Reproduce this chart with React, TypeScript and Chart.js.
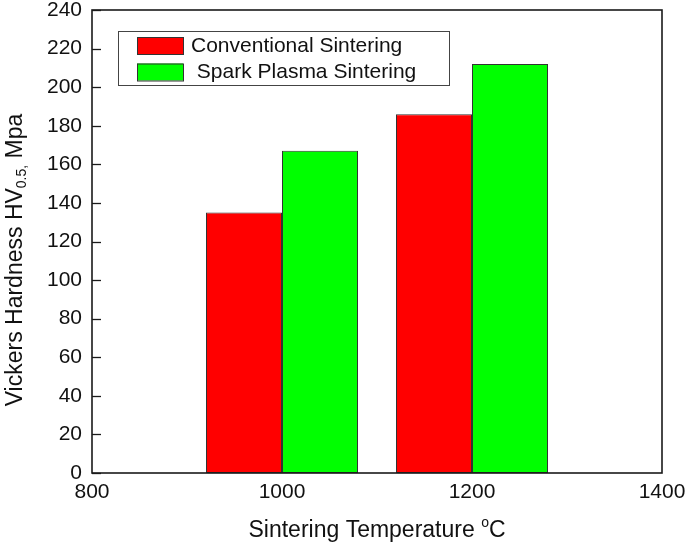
import { useEffect, useRef } from "react";
import { Chart, registerables } from "chart.js";

Chart.register(...registerables);

const temperatures = [1000, 1200];
const conventional = [135, 186];
const sparkPlasma = [167, 212];
const seriesLabels = ["Conventional Sintering", " Spark Plasma Sintering"];
const seriesColors = ["#ff0000", "#00ff00"];
const xMin = 800;
const xMax = 1400;
const xStep = 200;
const yMin = 0;
const yMax = 240;
const yStep = 20;

const FONT = "'Liberation Sans', Arial, sans-serif";

const decorPlugin = {
  id: "decor",
  afterDraw(chart: any) {
    const { ctx, chartArea: a, scales } = chart;
    ctx.save();
    // frame
    ctx.strokeStyle = "#1a1a1a";
    ctx.lineWidth = 1.6;
    ctx.strokeRect(a.left, a.top, a.right - a.left, a.bottom - a.top);
    // inward y ticks
    const ys = scales.y;
    ctx.lineWidth = 1.3;
    ys.ticks.forEach((t: any) => {
      const py = Math.round(ys.getPixelForValue(t.value)) + 0.5;
      ctx.beginPath();
      ctx.moveTo(a.left, py);
      ctx.lineTo(a.left + 9, py);
      ctx.stroke();
    });

    // legend
    const lx = a.left + 26;
    const ly = a.top + 21;
    const lw = 331;
    const lh = 54;
    ctx.fillStyle = "#fff";
    ctx.fillRect(lx, ly, lw, lh);
    ctx.strokeStyle = "#444";
    ctx.lineWidth = 1;
    ctx.strokeRect(lx + 0.5, ly + 0.5, lw, lh);
    ctx.font = `21px ${FONT}`;
    ctx.textBaseline = "middle";
    ctx.textAlign = "left";
    chart.data.datasets.forEach((ds: any, i: number) => {
      const sy = ly + 6 + i * 26.5;
      ctx.fillStyle = ds.backgroundColor;
      ctx.fillRect(lx + 19, sy, 46, 17);
      ctx.strokeStyle = "#333";
      ctx.lineWidth = 1;
      ctx.strokeRect(lx + 19.5, sy + 0.5, 46, 17);
      ctx.fillStyle = "#111";
      ctx.fillText(ds.label, lx + 73, sy + 9);
    });

    // x title
    const big = `23px ${FONT}`;
    const small = `14px ${FONT}`;
    ctx.fillStyle = "#111";
    ctx.textBaseline = "alphabetic";
    const xParts = [
      { t: "Sintering Temperature ", f: big, dy: 0 },
      { t: "o", f: small, dy: -10 },
      { t: "C", f: big, dy: 0 },
    ];
    let total = 0;
    xParts.forEach((p) => {
      ctx.font = p.f;
      total += ctx.measureText(p.t).width;
    });
    let cx = (a.left + a.right) / 2 - total / 2;
    xParts.forEach((p) => {
      ctx.font = p.f;
      ctx.fillText(p.t, cx, 537 + p.dy);
      cx += ctx.measureText(p.t).width;
    });

    // y title
    const yParts = [
      { t: "Vickers Hardness HV", f: big, dy: 0 },
      { t: "0.5,", f: small, dy: 3.5 },
      { t: " Mpa", f: big, dy: 0 },
    ];
    total = 0;
    yParts.forEach((p) => {
      ctx.font = p.f;
      total += ctx.measureText(p.t).width;
    });
    ctx.translate(22, 260);
    ctx.rotate(-Math.PI / 2);
    let tx = -total / 2;
    yParts.forEach((p) => {
      ctx.font = p.f;
      ctx.fillText(p.t, tx, p.dy);
      tx += ctx.measureText(p.t).width;
    });
    ctx.restore();
  },
};

export default function App() {
  const ref = useRef<HTMLCanvasElement | null>(null);

  useEffect(() => {
    if (!ref.current) return;
    const series = [conventional, sparkPlasma];
    const chart = new Chart(ref.current, {
      type: "bar",
      data: {
        datasets: series.map((vals, si) => ({
          label: seriesLabels[si],
          data: temperatures.map((t, i) => ({ x: t, y: vals[i] })),
          backgroundColor: seriesColors[si],
          borderColor: "#333",
          borderWidth: 1,
          borderSkipped: false,
          categoryPercentage: 0.8,
          barPercentage: 1.0,
        })),
      },
      options: {
        animation: false,
        responsive: false,
        maintainAspectRatio: false,
        layout: { padding: { left: 0, top: 10, right: 23, bottom: 0 } },
        plugins: {
          legend: { display: false },
          tooltip: { enabled: false },
          title: { display: false },
        },
        scales: {
          x: {
            type: "linear",
            min: xMin,
            max: xMax,
            offset: false,
            grid: { display: false, drawTicks: false },
            border: { display: false },
            ticks: {
              stepSize: xStep,
              padding: 7,
              color: "#111",
              font: { family: FONT, size: 21 },
              maxRotation: 0,
              autoSkip: false,
              callback: (v: any) => String(v),
            },
            afterFit(scale: any) {
              scale.height = 72;
              scale.paddingLeft = 0;
              scale.paddingRight = 0;
            },
          },
          y: {
            type: "linear",
            min: yMin,
            max: yMax,
            grid: { display: false, drawTicks: false },
            border: { display: false },
            ticks: {
              stepSize: yStep,
              padding: 10,
              color: "#111",
              font: { family: FONT, size: 21 },
              autoSkip: false,
              callback: (v: any) => String(v),
            },
            afterFit(scale: any) {
              scale.width = 92;
              scale.paddingTop = 0;
              scale.paddingBottom = 0;
            },
          },
        },
      },
      plugins: [decorPlugin],
    });
    return () => chart.destroy();
  }, []);

  return (
    <div style={{ position: "absolute", left: 0, top: 0, width: 685, height: 545, background: "#fff" }}>
      <canvas ref={ref} width={685} height={545} style={{ width: 685, height: 545, display: "block" }} />
    </div>
  );
}
